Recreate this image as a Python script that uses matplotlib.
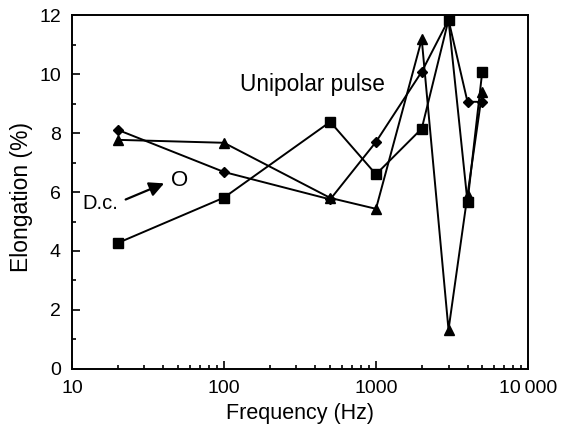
import matplotlib
matplotlib.use("Agg")
import matplotlib.pyplot as plt
from matplotlib.ticker import FixedLocator, LogLocator, NullFormatter, MultipleLocator

plt.rcParams['font.family'] = ['Liberation Sans', 'DejaVu Sans']

freq = [20, 100, 500, 1000, 2000, 3000, 4000, 5000]
square = [4.27, 5.81, 8.38, 6.6, 8.15, 11.84, 5.66, 10.08]
diamond = [8.11, 6.68, 5.75, 7.7, 10.08, 11.84, 9.06, 9.06]
triangle = [7.77, 7.67, 5.8, 5.43, 11.18, 1.33, 5.9, 9.4]

xticks = [10, 100, 1000, 10000]
xticklabels = ["10", "100", "1000", "10\u2009000"]
yticks = [0, 2, 4, 6, 8, 10, 12]

fig = plt.figure(figsize=(5.62, 4.32), dpi=100)
ax = fig.add_axes([0.128, 0.146, 0.8115, 0.819])

ax.plot(freq, square, "-s", color="black", lw=1.4, ms=6.5)
ax.plot(freq, diamond, "-D", color="black", lw=1.4, ms=5)
ax.plot(freq, triangle, "-^", color="black", lw=1.4, ms=7)

ax.set_xscale("log")
ax.set_xlim(10, 10000)
ax.set_ylim(0, 12)
ax.xaxis.set_major_locator(FixedLocator(xticks))
ax.set_xticks(xticks, xticklabels)
ax.xaxis.set_minor_locator(LogLocator(base=10, subs=range(2, 10)))
ax.xaxis.set_minor_formatter(NullFormatter())
ax.set_yticks(yticks)
ax.yaxis.set_minor_locator(MultipleLocator(1))
ax.tick_params(which="both", direction="in", labelsize=14, width=1.2)
ax.tick_params(which="major", length=6, pad=8)
ax.tick_params(which="minor", length=3)
for s in ax.spines.values():
    s.set_linewidth(1.4)

ax.set_xlabel("Frequency (Hz)", fontsize=15.5, labelpad=4)
ax.set_ylabel("Elongation (%)", fontsize=16.5)
ax.yaxis.set_label_coords(-0.085, 0.485)

ax.text(127, 9.63, "Unipolar pulse", fontsize=16.3, va="center", ha="left")
ax.text(11.8, 5.61, "D.c.", fontsize=14.5, va="center", ha="left")
ax.annotate("", xy=(42, 6.33), xytext=(21.7, 5.71),
            arrowprops=dict(arrowstyle="-|>", color="black", lw=1.6, mutation_scale=22))
ax.text(45, 6.4, "O", fontsize=16, va="center", ha="left")

fig.savefig("out.png", dpi=100)
